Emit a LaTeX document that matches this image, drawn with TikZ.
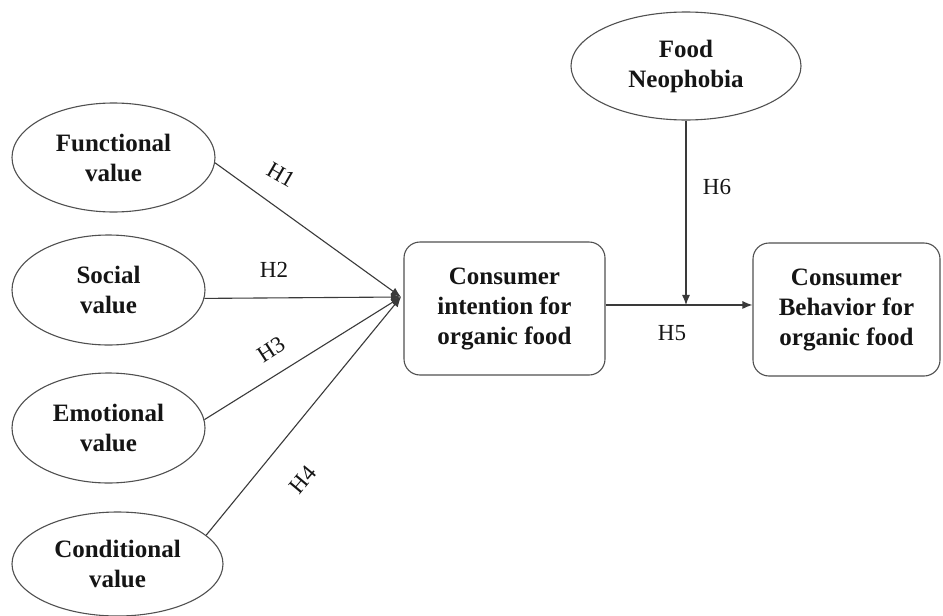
\documentclass[tikz,border=0pt]{standalone}
\usepackage{fontspec}
\setmainfont{Liberation Serif}
\usetikzlibrary{arrows.meta,shapes.geometric}
\definecolor{ellc}{HTML}{505050}
\definecolor{linec}{HTML}{3A3A3A}
\definecolor{txt}{HTML}{151515}
\begin{document}
\begin{tikzpicture}[x=1pt,y=-1pt,
  var/.style={ellipse,draw=ellc,line width=1.1pt,inner sep=0pt,align=center,
    font=\fontsize{25}{30}\selectfont\bfseries,text=txt},
  box/.style={rectangle,rounded corners=16pt,draw=ellc,line width=1.1pt,inner sep=0pt,
    align=center,font=\fontsize{25}{30}\selectfont\bfseries,text=txt,minimum height=133pt},
  link/.style={draw=linec,line width=1.1pt},
  arr/.style={link,-{Latex[length=10pt,width=8pt]}},
  hyp/.style={font=\fontsize{23}{28}\selectfont,text=txt,inner sep=0pt}
]
\useasboundingbox[fill=white] (0,0) rectangle (943,616);

\node[var,minimum width=203pt,minimum height=109pt] (func) at (113.5,157.5) {Functional\\value};
\node[var,minimum width=193pt,minimum height=110pt] (soc) at (108.5,290) {Social\\value};
\node[var,minimum width=193pt,minimum height=110pt] (emo) at (108.5,428) {Emotional\\value};
\node[var,minimum width=211pt,minimum height=104pt] (cond) at (117.5,564) {Conditional\\value};
\node[var,minimum width=230pt,minimum height=108pt] (fn) at (686,66) {Food\\Neophobia};

\node[box,minimum width=201pt] (int) at (504.5,308.5) {Consumer\\intention for\\organic food};
\node[box,minimum width=187pt] (beh) at (846.5,309.5) {Consumer\\Behavior for\\organic food};

\coordinate (conv) at (401,297);
\draw[arr] (func.-3) -- (conv);
\draw[arr] (soc.-5) -- (conv);
\draw[arr] (emo.5) -- (conv);
\draw[arr] (cond.18) -- (conv);

\draw[arr] (int.2) -- (int.2 -| beh.west);
\coordinate (j) at (fn.south |- int.2);
\draw[arr] (fn.south) -- (j);

\node[hyp,rotate=-30] (h1) at (281,175) {H1};
\node[hyp] (h2) at (274,270) {H2};
\node[hyp,rotate=33] (h3) at (271,350) {H3};
\node[hyp,rotate=50] (h4) at (303,480) {H4};
\node[hyp] (h5) at (672,333) {H5};
\node[hyp] (h6) at (717,187) {H6};
\end{tikzpicture}
\end{document}
